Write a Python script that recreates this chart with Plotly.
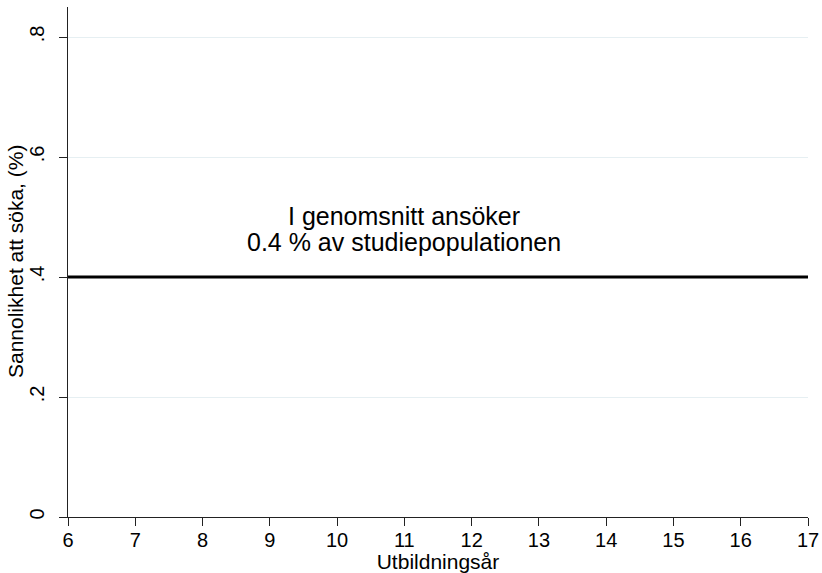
import plotly.graph_objects as go

years = [6, 7, 8, 9, 10, 11, 12, 13, 14, 15, 16, 17]
prob = [0.4, 0.4, 0.4, 0.4, 0.4, 0.4, 0.4, 0.4, 0.4, 0.4, 0.4, 0.4]
x_ticks = [6, 7, 8, 9, 10, 11, 12, 13, 14, 15, 16, 17]
y_ticks = [0, 0.2, 0.4, 0.6, 0.8]
y_ticklabels = ["0", ".2", ".4", ".6", ".8"]
note_lines = ["I genomsnitt ansöker", "0.4 % av studiepopulationen"]
note_x = 11
note_y = [0.502, 0.458]
y_title = "Sannolikhet att söka, (%)"
x_title = "Utbildningsår"

FONT = "Liberation Sans, Arial, Helvetica, sans-serif"

fig = go.Figure()
fig.add_trace(go.Scatter(
    x=years, y=prob, mode="lines",
    line=dict(color="black", width=3),
    showlegend=False, hoverinfo="skip",
))

for txt, yy in zip(note_lines, note_y):
    fig.add_annotation(
        x=note_x, y=yy, xref="x", yref="y", text=txt, showarrow=False,
        xanchor="center", yanchor="middle",
        font=dict(family=FONT, size=25, color="black"),
    )

# y-axis title placed as rotated annotation
fig.add_annotation(
    x=-0.0716, y=0.5, xref="paper", yref="paper", text=y_title,
    showarrow=False, textangle=-90, xanchor="center", yanchor="middle",
    font=dict(family=FONT, size=21, color="black"),
)

fig.update_layout(
    width=822, height=573,
    margin=dict(l=68, r=14, t=7, b=56, autoexpand=False),
    paper_bgcolor="white", plot_bgcolor="white",
    font=dict(family=FONT, color="black"),
)

fig.update_xaxes(
    range=[6, 17], tickvals=x_ticks, automargin=False,
    showgrid=False, zeroline=False,
    showline=True, linecolor="#222", linewidth=1.3,
    ticks="outside", ticklen=8, tickwidth=1.3, tickcolor="#222",
    ticklabelstandoff=-3,
    tickfont=dict(size=20, family=FONT, color="black"),
    title=dict(text=x_title, font=dict(size=21, family=FONT), standoff=0),
)
fig.update_yaxes(
    range=[0, 0.85], tickvals=y_ticks, ticktext=y_ticklabels, automargin=False,
    showgrid=True, gridcolor="#e6eff2", gridwidth=1, zeroline=False,
    showline=True, linecolor="#222", linewidth=1.3,
    ticks="outside", ticklen=8, tickwidth=1.3, tickcolor="#222",
    tickangle=-90, ticklabelstandoff=7,
    tickfont=dict(size=20, family=FONT, color="black"),
)

fig.write_html(
    "out.html",
    config={"displayModeBar": False},
    post_script="document.body.style.margin='0';document.body.style.overflow='hidden';",
)
